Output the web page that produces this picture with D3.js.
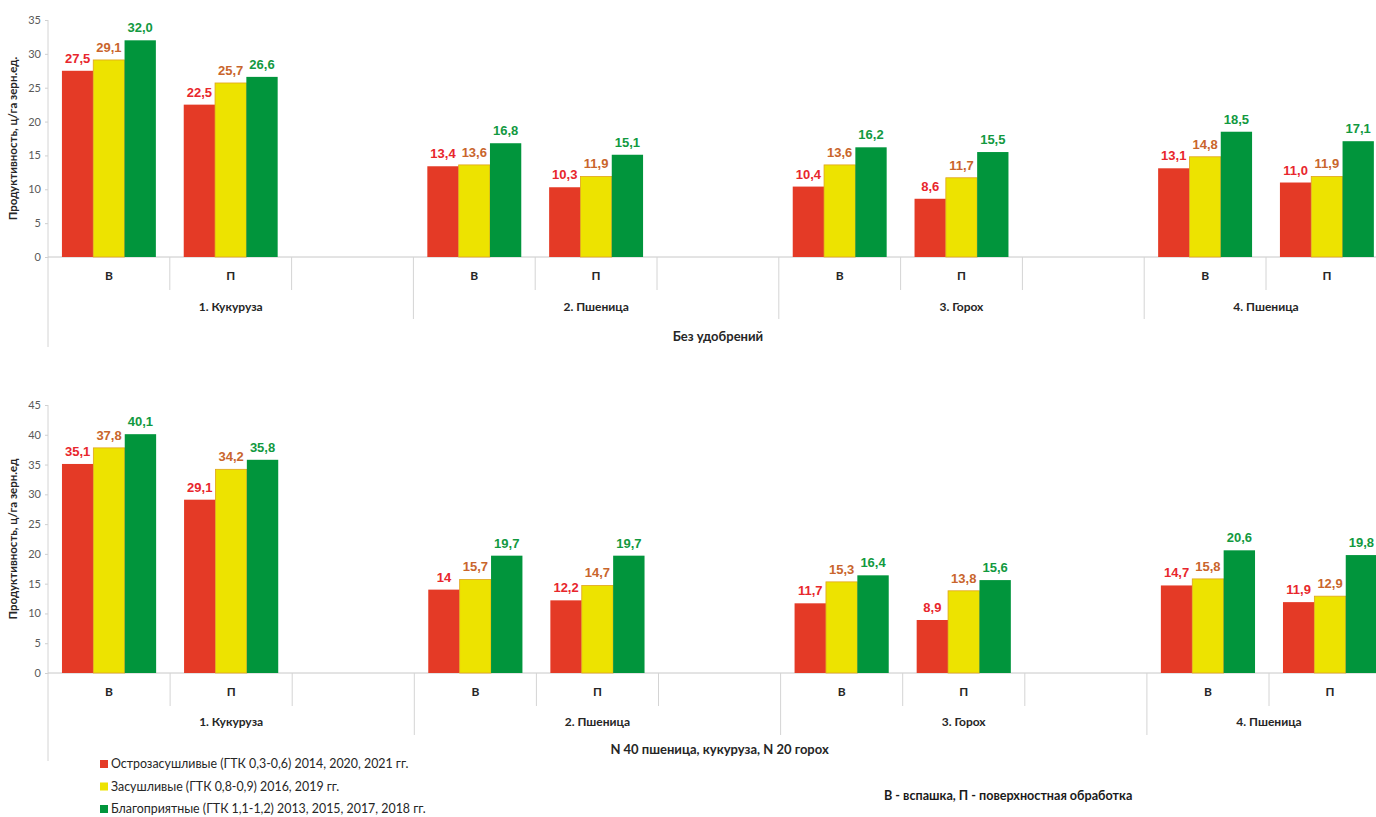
<!DOCTYPE html>
<html>
<head>
<meta charset="utf-8">
<script src="https://cdn.jsdelivr.net/npm/d3@7"></script>
<style>
  body { margin: 0; background: #fff; }
  svg { display: block; font-family: Lato, "Open Sans", sans-serif; }
</style>
</head>
<body>
<div id="chart"></div>
<script>
// Slots along the x axis: crop / tillage, with an empty slot between crops
const slots = ["1В", "1П", "1-", "2В", "2П", "2-", "3В", "3П", "3-", "4В", "4П"];
const barSlots = ["1В", "1П", "2В", "2П", "3В", "3П", "4В", "4П"];
const tillage = ["В", "П"];
const crops = ["1. Кукуруза", "2. Пшеница", "3. Горох", "4. Пшеница"];
const series = ["red", "yellow", "green"];
const legendLabels = [
  "Острозасушливые (ГТК 0,3-0,6) 2014, 2020, 2021 гг.",
  "Засушливые (ГТК 0,8-0,9) 2016, 2019 гг.",
  "Благоприятные (ГТК 1,1-1,2) 2013, 2015, 2017, 2018 гг."
];

// Top chart: без удобрений
const topRed    = [27.5, 22.5, 13.4, 10.3, 10.4, 8.6, 13.1, 11.0];
const topYellow = [29.1, 25.7, 13.6, 11.9, 13.6, 11.7, 14.8, 11.9];
const topGreen  = [32.0, 26.6, 16.8, 15.1, 16.2, 15.5, 18.5, 17.1];
const topTicks  = [0, 5, 10, 15, 20, 25, 30, 35];

// Bottom chart: N 40 / N 20
const botRed    = [35.1, 29.1, 14, 12.2, 11.7, 8.9, 14.7, 11.9];
const botYellow = [37.8, 34.2, 15.7, 14.7, 15.3, 13.8, 15.8, 12.9];
const botGreen  = [40.1, 35.8, 19.7, 19.7, 16.4, 15.6, 20.6, 19.8];
const botTicks  = [0, 5, 10, 15, 20, 25, 30, 35, 40, 45];

const barColor = { red: "#e43a26", yellow: "#ede300", green: "#01953c" };
const labelColor = { red: "#e8262c", yellow: "#c9652c", green: "#12993f" };

const width = 1376, height = 817;

const svg = d3.select("#chart").append("svg")
    .attr("width", width)
    .attr("height", height);

function drawChart(cfg) {
  const g = svg.append("g");

  // Scales
  const x0 = d3.scaleBand().domain(slots).range([cfg.left, cfg.right]).paddingInner(0);
  const x1 = d3.scaleBand().domain(series).range([0, x0.bandwidth()]).paddingOuter(0.445);
  const y = d3.scaleLinear().domain([0, d3.max(cfg.ticks)]).range([cfg.bottom, cfg.top]);

  // Y axis
  const yAxis = d3.axisLeft(y).tickValues(cfg.ticks).tickSize(3).tickPadding(4);
  const ya = g.append("g")
      .attr("transform", `translate(${cfg.left},0)`)
      .call(yAxis);
  ya.select(".domain").remove();
  ya.selectAll(".tick line").attr("stroke", "#cfcfcf");
  ya.selectAll(".tick text")
      .attr("fill", "#595959")
      .style("font-family", "Lato, sans-serif")
      .style("font-size", "11px");

  // Axis line, extended down through category label levels
  g.append("line")
      .attr("x1", cfg.left).attr("x2", cfg.left)
      .attr("y1", cfg.top).attr("y2", cfg.bottom + cfg.sepOuter)
      .attr("stroke", "#d4d4d4");

  // Baseline
  g.append("line")
      .attr("x1", cfg.left).attr("x2", cfg.right)
      .attr("y1", cfg.bottom).attr("y2", cfg.bottom)
      .attr("stroke", "#c8c8c8");

  // Separators between slots
  slots.forEach((s, i) => {
    if (i === 0) return;
    const len = i % 3 === 0 ? cfg.sepLong : cfg.sepShort;
    g.append("line")
        .attr("x1", x0(s)).attr("x2", x0(s))
        .attr("y1", cfg.bottom).attr("y2", cfg.bottom + len)
        .attr("stroke", "#d4d4d4");
  });

  // Bars
  const rows = barSlots.map((s, i) => ({
    slot: s,
    vals: series.map(k => ({ key: k, value: cfg.data[k][i] }))
  }));

  const groups = g.selectAll(".grp")
    .data(rows)
    .enter().append("g")
      .attr("class", "grp")
      .attr("transform", d => `translate(${x0(d.slot)},0)`);

  groups.selectAll("rect")
    .data(d => d.vals)
    .enter().append("rect")
      .attr("x", d => x1(d.key))
      .attr("y", d => y(d.value))
      .attr("width", x1.bandwidth())
      .attr("height", d => y(0) - y(d.value))
      .attr("fill", d => barColor[d.key])
      .attr("stroke", d => d.key === "yellow" ? "#e0a41c" : "none")
      .attr("stroke-width", 0.8);

  groups.selectAll("text")
    .data(d => d.vals)
    .enter().append("text")
      .attr("x", d => x1(d.key) + x1.bandwidth() / 2)
      .attr("y", d => y(d.value) - 8)
      .attr("text-anchor", "middle")
      .attr("fill", d => labelColor[d.key])
      .style("font-family", "'Liberation Sans', Arial, sans-serif")
      .style("font-weight", "bold")
      .style("font-size", "13px")
      .text(d => cfg.fmt(d.value));

  // Tillage labels
  barSlots.forEach((s, i) => {
    g.append("text")
        .attr("x", x0(s) + x0.bandwidth() / 2)
        .attr("y", cfg.bottom + 23)
        .attr("text-anchor", "middle")
        .attr("fill", "#262626")
        .style("font-weight", "bold")
        .style("font-size", "12px")
        .text(tillage[i % 2]);
  });

  // Crop labels
  crops.forEach((c, i) => {
    const start = x0(slots[i * 3]);
    const end = i < 3 ? x0(slots[i * 3 + 2]) + x0.bandwidth() : x0(slots[i * 3 + 1]) + x0.bandwidth();
    g.append("text")
        .attr("x", (start + end) / 2)
        .attr("y", cfg.bottom + cfg.cropY)
        .attr("text-anchor", "middle")
        .attr("fill", "#262626")
        .style("font-weight", "bold")
        .style("font-size", "12px")
        .text(c);
  });

  // Outer group label
  g.append("text")
      .attr("x", (cfg.left + cfg.right) / 2)
      .attr("y", cfg.bottom + cfg.outerY)
      .attr("text-anchor", "middle")
      .attr("fill", "#262626")
      .style("font-weight", "bold")
      .style("font-size", "13px")
      .text(cfg.outer);

  // Y axis title
  g.append("text")
      .attr("transform", `translate(17,${(cfg.top + cfg.bottom) / 2}) rotate(-90)`)
      .attr("text-anchor", "middle")
      .attr("fill", "#262626")
      .style("font-weight", "bold")
      .style("font-size", "11.5px")
      .text(cfg.title);
}

drawChart({
  left: 48, right: 48 + 11 * 121.8, top: 20, bottom: 257,
  ticks: topTicks,
  data: { red: topRed, yellow: topYellow, green: topGreen },
  fmt: v => v.toFixed(1).replace(".", ","),
  sepShort: 33, sepLong: 62, sepOuter: 90,
  cropY: 54, outerY: 84,
  outer: "Без удобрений",
  title: "Продуктивность, ц/га зерн.ед."
});

drawChart({
  left: 48, right: 48 + 11 * 122.1, top: 405, bottom: 673,
  ticks: botTicks,
  data: { red: botRed, yellow: botYellow, green: botGreen },
  fmt: v => String(v).replace(".", ","),
  sepShort: 33, sepLong: 62, sepOuter: 88,
  cropY: 53, outerY: 81,
  outer: "N 40 пшеница, кукуруза, N 20 горох",
  title: "Продуктивность, ц/га зерн.ед"
});

// Legend
const legend = svg.append("g").attr("transform", "translate(100,764)");
legendLabels.forEach((t, i) => {
  const row = legend.append("g").attr("transform", `translate(0,${i * 22.5})`);
  row.append("rect")
      .attr("x", 0).attr("y", -4)
      .attr("width", 8).attr("height", 8)
      .attr("fill", barColor[series[i]]);
  row.append("text")
      .attr("x", 11).attr("y", 4)
      .attr("fill", "#262626")
      .style("font-size", "12.4px")
      .text(t);
});

// Note
svg.append("text")
    .attr("x", 884).attr("y", 800)
    .attr("fill", "#1a1a1a")
    .style("font-weight", "bold")
    .style("font-size", "12.6px")
    .text("В - вспашка, П - поверхностная обработка");
</script>
</body>
</html>
